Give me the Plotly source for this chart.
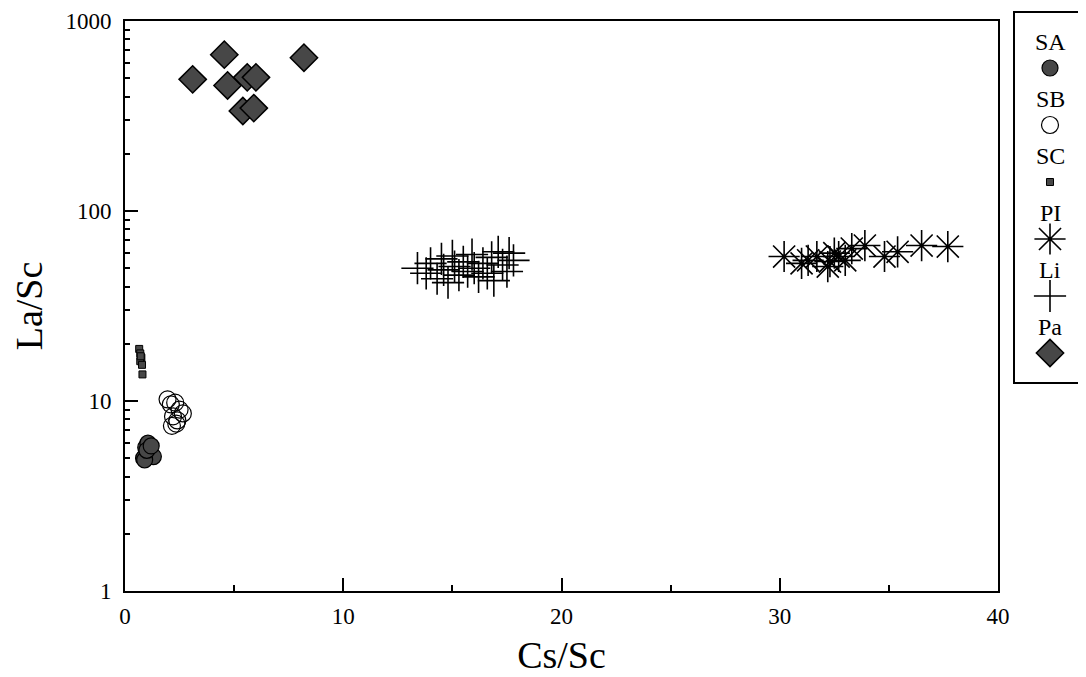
import plotly.graph_objects as go

# ---------------- data ----------------
series_names = ["SA", "SB", "SC", "PI", "Li", "Pa"]

sa_x = [0.85, 0.95, 1.05, 1.15, 1.3, 0.9, 1.0, 1.2]
sa_y = [5.0, 5.7, 6.0, 5.3, 5.1, 4.9, 5.5, 5.8]

sb_x = [1.95, 2.1, 2.3, 2.5, 2.65, 2.2, 2.4, 2.15, 2.35]
sb_y = [10.2, 9.6, 9.8, 9.0, 8.6, 8.3, 7.9, 7.4, 7.6]

sc_x = [0.65, 0.7, 0.75, 0.7, 0.78, 0.72, 0.8]
sc_y = [18.8, 17.8, 16.9, 16.2, 15.5, 17.2, 13.8]

pi_x = [30.2, 31.0, 31.3, 31.7, 32.2, 32.3, 32.5, 32.7, 33.0, 33.3, 33.9, 34.8, 35.4, 36.5, 37.7]
pi_y = [57.6, 53, 55, 57.6, 51, 54.2, 60, 57.6, 55, 63.4, 65.8, 57.6, 61, 65.8, 65]

li_x = [13.4, 13.8, 14.0, 14.3, 14.5, 14.6, 14.8, 15.0, 15.1, 15.3, 15.5, 15.7,
        15.9, 16.0, 16.2, 16.4, 16.6, 16.8, 16.9, 17.1, 17.3, 17.5, 17.6, 17.8]
li_y = [50, 47, 53, 44, 56, 49, 42, 58, 51, 46, 54, 48,
        59, 50, 45, 53, 47, 57, 43, 61, 52, 48, 60, 55]

pa_x = [3.1, 4.55, 4.7, 5.6, 6.0, 5.4, 5.9, 8.2]
pa_y = [493, 665, 458, 505, 505, 336, 348, 641]

x_ticks = [0, 10, 20, 30, 40]
x_minor = [5, 15, 25, 35]
y_ticks = [1, 10, 100, 1000]

# ---------------- styles ----------------
FONT = "Liberation Serif"
FILL = "#474747"
styles = {
    "SA": dict(symbol="circle", size=16, color=FILL, line=dict(color="black", width=1.2)),
    "SB": dict(symbol="circle-open", size=17, color="black", line=dict(color="black", width=1.2)),
    "SC": dict(symbol="square", size=7, color=FILL, line=dict(color="black", width=1)),
    "PI": dict(symbol="asterisk-open", size=26, color="black", line=dict(color="black", width=1.6)),
    "Li": dict(symbol="cross-thin-open", size=23, color="black", line=dict(color="black", width=1.6)),
    "Pa": dict(symbol="diamond", size=21, color=FILL, line=dict(color="black", width=1.5)),
}
data = {
    "SA": (sa_x, sa_y), "SB": (sb_x, sb_y), "SC": (sc_x, sc_y),
    "PI": (pi_x, pi_y), "Li": (li_x, li_y), "Pa": (pa_x, pa_y),
}

# page body has an 8px margin; work in screen pixels and subtract it
OFF = 8
W, H = 1086 - OFF, 677 - OFF
plot_left_px, plot_right_px, plot_top_px, plot_bot_px = 125, 998, 21, 591
ML = plot_left_px - OFF
MT = 2
MB = H - (plot_bot_px - OFF)
MR = 0
PW, PH = W - ML - MR, H - MT - MB

def px2paper_x(px):
    return (px - OFF - ML) / PW

def py2paper(py):
    return (H - MB - (py - OFF)) / PH

xdom_main = [0, px2paper_x(plot_right_px)]
ydom_main = [0, py2paper(plot_top_px)]

leg_left_px, leg_top_px, leg_bot_px = 1014, 12, 383
leg_xdom = [px2paper_x(leg_left_px), 1.0]
leg_ydom = [py2paper(leg_bot_px), min(1.0, py2paper(leg_top_px))]
leg_height = leg_bot_px - leg_top_px

fig = go.Figure()
for name in series_names:
    xs, ys = data[name]
    fig.add_trace(go.Scatter(x=xs, y=ys, mode="markers", name=name,
                             marker=styles[name], showlegend=False,
                             hoverinfo="x+y+name"))

# custom legend (label above symbol), positions from series order
label_first, symbol_first, step = 30, 56, 57
for i, name in enumerate(series_names):
    fig.add_trace(go.Scatter(x=[0], y=[symbol_first + step * i], mode="markers",
                             marker=styles[name], xaxis="x2", yaxis="y2",
                             showlegend=False, hoverinfo="skip"))
    fig.add_annotation(x=0, y=label_first + step * i, xref="x2", yref="y2",
                       text=name, showarrow=False,
                       font=dict(family=FONT, size=24, color="black"))

# legend box
fig.add_shape(type="rect", xref="paper", yref="paper",
              x0=leg_xdom[0], x1=1.05, y0=leg_ydom[0], y1=leg_ydom[1],
              line=dict(color="black", width=2), fillcolor="rgba(0,0,0,0)")

y_minor = [m * 10 ** d for d in range(3) for m in range(2, 10)]

fig.update_layout(
    width=W, height=H,
    margin=dict(l=ML, r=MR, t=MT, b=MB),
    paper_bgcolor="white", plot_bgcolor="white",
    font=dict(family=FONT, size=23, color="black"),
    xaxis=dict(domain=xdom_main, range=[0, 40], showgrid=False, zeroline=False,
               showline=True, linecolor="black", linewidth=2, mirror=True,
               ticks="inside", ticklen=13, tickwidth=1.5, tickcolor="black",
               tickvals=x_ticks, ticktext=[str(v) for v in x_ticks],
               ticklabeloverflow="allow", ticklabelstandoff=3,
               minor=dict(ticks="inside", ticklen=6, tickwidth=1.5, tickcolor="black",
                          tickvals=x_minor, showgrid=False),
               title=dict(text="Cs/Sc", font=dict(family=FONT, size=38), standoff=14),
               automargin=False, tickfont=dict(family=FONT, size=23)),
    yaxis=dict(domain=ydom_main, type="log", range=[0, 3], showgrid=False, zeroline=False,
               showline=True, linecolor="black", linewidth=2, mirror=True,
               ticks="inside", ticklen=13, tickwidth=1.5, tickcolor="black",
               tickvals=y_ticks, ticktext=[str(v) for v in y_ticks],
               ticklabeloverflow="allow", ticklabelstandoff=7,
               minor=dict(ticks="inside", ticklen=5, tickwidth=1.5, tickcolor="black",
                          tickvals=y_minor, showgrid=False),
               title=dict(text="La/Sc", font=dict(family=FONT, size=38), standoff=18),
               automargin=False, tickfont=dict(family=FONT, size=23)),
    xaxis2=dict(domain=leg_xdom, range=[-1, 1], anchor="y2", visible=False, fixedrange=True),
    yaxis2=dict(domain=leg_ydom, range=[leg_height, 0], anchor="x2", visible=False, fixedrange=True),
)

fig.write_html("out.html")
